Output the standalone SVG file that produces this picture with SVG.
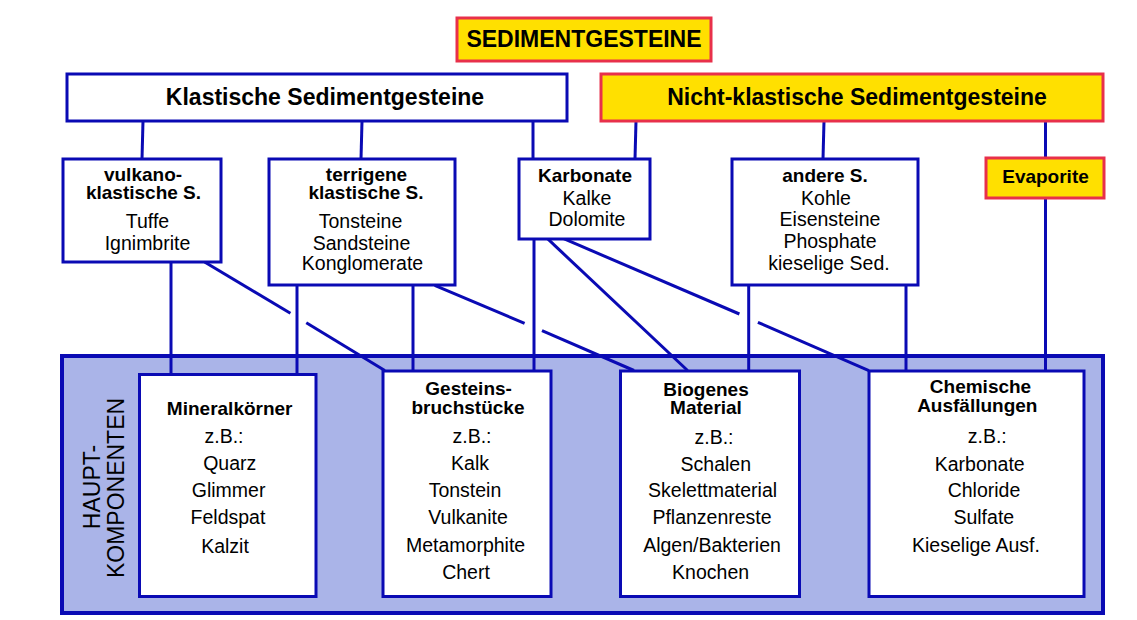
<svg xmlns="http://www.w3.org/2000/svg" width="1137" height="620" viewBox="0 0 1137 620">
<style>
.box{fill:#FFFFFF;stroke:#0A0AB4;stroke-width:3}
.ybox{fill:#FFE000;stroke:#E8304A;stroke-width:3}
.big{fill:#AAB4E8;stroke:#0A0AB4;stroke-width:4}
.ln{stroke:#0A0AB4;stroke-width:3;fill:none}
text{font-family:"Liberation Sans",Arial,Helvetica,sans-serif;fill:#000;text-anchor:middle}
.h1{font-size:23px;font-weight:bold}
.b{font-size:19px;font-weight:bold}
.r{font-size:19.5px}
.v{font-size:23px}
</style>
<rect width="1137" height="620" fill="#FFFFFF"/>
<g id="hauptkomponenten">
<rect class="big" x="62" y="356" width="1041" height="257"/>
<text class="v" transform="translate(100,487) rotate(-90)">HAUPT-</text>
<text class="v" transform="translate(124,488) rotate(-90)">KOMPONENTEN</text>
</g>
<g id="connectors">
<line class="ln" x1="143" y1="121" x2="142" y2="159"/>
<line class="ln" x1="362" y1="121" x2="361" y2="159"/>
<line class="ln" x1="533" y1="121" x2="533" y2="159"/>
<line class="ln" x1="636" y1="121" x2="635" y2="159"/>
<line class="ln" x1="824" y1="121" x2="823" y2="159"/>
<line class="ln" x1="1045.5" y1="121" x2="1045.5" y2="158"/>
<line class="ln" x1="171" y1="262" x2="171" y2="374"/>
<line class="ln" x1="297" y1="285" x2="297" y2="374"/>
<line class="ln" x1="413" y1="285" x2="413" y2="371"/>
<line class="ln" x1="534" y1="238" x2="534" y2="371"/>
<line class="ln" x1="748.7" y1="285" x2="748.7" y2="371"/>
<line class="ln" x1="906" y1="285" x2="906" y2="371"/>
<line class="ln" x1="1045.5" y1="198" x2="1045.5" y2="371"/>
<polyline class="ln" points="204.6,262 290.4,313.3"/>
<polyline class="ln" points="306.3,322.7 384.8,370.5"/>
<polyline class="ln" points="434.7,285.3 524.6,323.3"/>
<polyline class="ln" points="542,330.7 634,370.5"/>
<polyline class="ln" points="547.5,238.7 687.6,370.5"/>
<polyline class="ln" points="563.7,238.7 739.4,314"/>
<polyline class="ln" points="757.9,322.3 868.9,370.7"/>
</g>
<g id="sedimentgesteine">
<rect class="ybox" x="457" y="18" width="254" height="43"/>
<text class="h1" x="584" y="47">SEDIMENTGESTEINE</text>
</g>
<g id="klastische">
<rect class="box" x="67" y="74" width="500" height="47"/>
<text class="h1" x="325" y="105">Klastische Sedimentgesteine</text>
</g>
<g id="nichtklastische">
<rect class="ybox" x="601" y="74" width="502" height="47"/>
<text class="h1" x="857" y="105">Nicht-klastische Sedimentgesteine</text>
</g>
<g id="vulkano">
<rect class="box" x="63" y="159" width="158" height="103"/>
<text class="b" x="143" y="181">vulkano-</text>
<text class="b" x="143.5" y="199">klastische S.</text>
<text class="r" x="147.5" y="228">Tuffe</text>
<text class="r" x="147.5" y="250">Ignimbrite</text>
</g>
<g id="terrigene">
<rect class="box" x="269" y="159" width="186" height="126"/>
<text class="b" x="366.5" y="181">terrigene</text>
<text class="b" x="366" y="199">klastische S.</text>
<text class="r" x="360.5" y="228">Tonsteine</text>
<text class="r" x="361.5" y="250">Sandsteine</text>
<text class="r" x="362.5" y="270">Konglomerate</text>
</g>
<g id="karbonate">
<rect class="box" x="519" y="159" width="131" height="80"/>
<text class="b" x="585" y="182">Karbonate</text>
<text class="r" x="587" y="205">Kalke</text>
<text class="r" x="587" y="226">Dolomite</text>
</g>
<g id="andere">
<rect class="box" x="732" y="159" width="186" height="126"/>
<text class="b" x="825" y="182">andere S.</text>
<text class="r" x="826" y="205">Kohle</text>
<text class="r" x="830" y="226">Eisensteine</text>
<text class="r" x="830" y="248">Phosphate</text>
<text class="r" x="829" y="270">kieselige Sed.</text>
</g>
<g id="evaporite">
<rect class="ybox" x="986" y="158" width="118" height="40"/>
<text class="b" x="1045.5" y="183">Evaporite</text>
</g>
<g id="mineralkoerner">
<rect class="box" x="139.5" y="374.5" width="176.5" height="222"/>
<text class="b" x="229.7" y="415">Mineralkörner</text>
<text class="r" x="224" y="443">z.B.:</text>
<text class="r" x="229.7" y="470">Quarz</text>
<text class="r" x="228.6" y="497">Glimmer</text>
<text class="r" x="228" y="523.5">Feldspat</text>
<text class="r" x="225" y="552.5">Kalzit</text>
</g>
<g id="gesteinsbruchstuecke">
<rect class="box" x="383" y="371" width="168" height="225.5"/>
<text class="b" x="468.6" y="394.5">Gesteins-</text>
<text class="b" x="468" y="413.5">bruchstücke</text>
<text class="r" x="472" y="443">z.B.:</text>
<text class="r" x="470" y="470">Kalk</text>
<text class="r" x="465" y="497">Tonstein</text>
<text class="r" x="468" y="523.5">Vulkanite</text>
<text class="r" x="465.6" y="551.5">Metamorphite</text>
<text class="r" x="466" y="578.5">Chert</text>
</g>
<g id="biogenes">
<rect class="box" x="620.5" y="371" width="179" height="225.5"/>
<text class="b" x="706" y="395.5">Biogenes</text>
<text class="b" x="706" y="414">Material</text>
<text class="r" x="714" y="443.5">z.B.:</text>
<text class="r" x="715.8" y="470.7">Schalen</text>
<text class="r" x="712.6" y="497">Skelettmaterial</text>
<text class="r" x="712" y="523.5">Pflanzenreste</text>
<text class="r" x="712" y="551.5">Algen/Bakterien</text>
<text class="r" x="710.6" y="578.5">Knochen</text>
</g>
<g id="chemische">
<rect class="box" x="869" y="371" width="215" height="225.5"/>
<text class="b" x="980.5" y="393">Chemische</text>
<text class="b" x="977.3" y="411.7">Ausfällungen</text>
<text class="r" x="987.3" y="443">z.B.:</text>
<text class="r" x="979.7" y="470.7">Karbonate</text>
<text class="r" x="984" y="497.3">Chloride</text>
<text class="r" x="983.8" y="523.5">Sulfate</text>
<text class="r" x="976" y="551.5">Kieselige Ausf.</text>
</g>
</svg>
